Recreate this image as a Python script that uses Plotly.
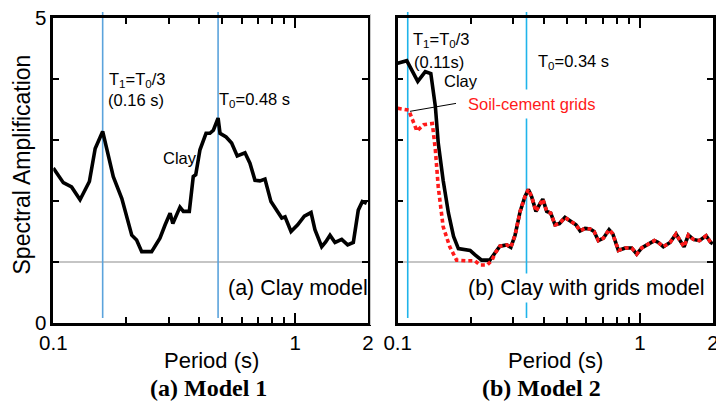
import math
import plotly.graph_objects as go

# ---- Model 1: clay only ----
clay1_period = [0.100, 0.110, 0.119, 0.129, 0.141, 0.149, 0.160, 0.177, 0.192, 0.211,
                0.221, 0.232, 0.255, 0.276, 0.290, 0.304, 0.312, 0.334, 0.345, 0.365,
                0.379, 0.388, 0.404, 0.428, 0.444, 0.459, 0.480, 0.489, 0.518, 0.546,
                0.576, 0.620, 0.650, 0.682, 0.715, 0.750, 0.794, 0.847, 0.880, 0.908,
                0.961, 1.024, 1.091, 1.163, 1.207, 1.287, 1.337, 1.393, 1.461, 1.557,
                1.648, 1.739, 1.823, 1.894, 1.975]
clay1_amp = [2.54, 2.30, 2.23, 2.02, 2.32, 2.86, 3.14, 2.40, 2.04, 1.44,
             1.36, 1.17, 1.17, 1.39, 1.61, 1.80, 1.63, 1.90, 1.83, 1.83,
             2.40, 2.43, 2.84, 3.11, 3.11, 3.16, 3.36, 3.11, 3.05, 2.95,
             2.74, 2.79, 2.62, 2.34, 2.33, 2.36, 1.99, 1.83, 1.72, 1.74,
             1.50, 1.61, 1.75, 1.81, 1.53, 1.25, 1.33, 1.44, 1.32, 1.37,
             1.28, 1.32, 1.85, 1.99, 1.96]

# ---- Model 2: clay with soil-cement grids ----
clay2_period = [0.100, 0.109, 0.121, 0.130, 0.137, 0.143, 0.147, 0.154, 0.162, 0.170,
                0.178, 0.193, 0.199, 0.208, 0.212, 0.222, 0.240, 0.252, 0.264, 0.282,
                0.293, 0.305, 0.320, 0.335, 0.346, 0.357, 0.372, 0.387, 0.397, 0.412,
                0.428, 0.446, 0.465, 0.490, 0.514, 0.544, 0.566, 0.593, 0.622, 0.646,
                0.673, 0.706, 0.745, 0.772, 0.814, 0.868, 0.924, 0.969, 1.016, 1.066,
                1.146, 1.190, 1.248, 1.330, 1.408, 1.453, 1.519, 1.583, 1.660, 1.757,
                1.873, 1.958, 1.996]
clay2_amp = [4.26, 4.30, 3.96, 4.12, 4.09, 3.55, 2.95, 2.34, 1.80, 1.42,
             1.22, 1.20, 1.19, 1.12, 1.09, 1.03, 1.03, 1.14, 1.26, 1.28,
             1.24, 1.44, 1.83, 2.07, 2.19, 2.07, 1.83, 1.96, 2.03, 1.83,
             1.80, 1.61, 1.63, 1.73, 1.68, 1.61, 1.51, 1.55, 1.54, 1.50,
             1.35, 1.39, 1.53, 1.46, 1.19, 1.23, 1.23, 1.13, 1.23, 1.28,
             1.35, 1.32, 1.25, 1.32, 1.46, 1.37, 1.25, 1.44, 1.37, 1.35,
             1.43, 1.32, 1.30]

grids_period = [0.100, 0.111, 0.120, 0.128, 0.139, 0.143, 0.147, 0.154, 0.164, 0.175,
                0.193, 0.208, 0.219, 0.234, 0.245, 0.252, 0.264, 0.282,
                0.293, 0.305, 0.320, 0.335, 0.346, 0.357, 0.372, 0.387, 0.397, 0.412,
                0.428, 0.446, 0.465, 0.490, 0.514, 0.544, 0.566, 0.593, 0.622, 0.646,
                0.673, 0.706, 0.745, 0.772, 0.814, 0.868, 0.924, 0.969, 1.016, 1.066,
                1.146, 1.190, 1.248, 1.330, 1.408, 1.453, 1.519, 1.583, 1.660, 1.757,
                1.873, 1.958, 1.996]
grids_amp = [3.52, 3.49, 3.15, 3.25, 3.27, 2.84, 2.23, 1.58, 1.25, 1.03,
             1.02, 1.02, 0.95, 0.95, 1.03, 1.14, 1.26, 1.28,
             1.24, 1.44, 1.83, 2.07, 2.19, 2.07, 1.83, 1.96, 2.03, 1.83,
             1.80, 1.61, 1.63, 1.73, 1.68, 1.61, 1.51, 1.55, 1.54, 1.50,
             1.35, 1.39, 1.53, 1.46, 1.19, 1.23, 1.23, 1.13, 1.23, 1.28,
             1.35, 1.32, 1.25, 1.32, 1.46, 1.37, 1.25, 1.44, 1.37, 1.35,
             1.43, 1.32, 1.30]

# characteristic periods marked on each panel
model1_periods = [0.16, 0.48]
model2_periods = [0.11, 0.34]

x_major = [0.1, 1, 2]
x_major_text = ["0.1", "1", "2"]
x_minor = [0.2, 0.3, 0.4, 0.5, 0.6, 0.7, 0.8, 0.9]
y_ticks = [0, 1, 2, 3, 4, 5]
y_ticktext = ["0", "", "", "", "", "5"]

SANS = "Liberation Sans, Arial, sans-serif"
SERIF = "Liberation Serif, Times New Roman, serif"
W, H = 716, 402

fig = go.Figure()

fig.add_trace(go.Scatter(x=clay1_period, y=clay1_amp, mode="lines",
                         line=dict(color="black", width=3.6),
                         xaxis="x", yaxis="y", showlegend=False))
fig.add_trace(go.Scatter(x=clay2_period, y=clay2_amp, mode="lines",
                         line=dict(color="black", width=3.6),
                         xaxis="x2", yaxis="y2", showlegend=False))
fig.add_trace(go.Scatter(x=grids_period, y=grids_amp, mode="lines",
                         line=dict(color="#ff1a1a", width=3.6, dash="4px,3px"),
                         xaxis="x2", yaxis="y2", showlegend=False))

xaxis_common = dict(
    type="log", range=[-1, math.log10(2)], automargin=False,
    showline=True, linecolor="black", linewidth=2.5, mirror="ticks",
    showgrid=False, zeroline=False,
    tickmode="array", tickvals=x_major, ticktext=x_major_text,
    ticks="inside", ticklen=10, tickwidth=1.5, tickcolor="black",
    ticklabeloverflow="allow",
    minor=dict(tickmode="array", tickvals=x_minor, ticks="inside",
               ticklen=6, tickwidth=1.5, tickcolor="black", showgrid=False),
    tickfont=dict(family=SANS, size=20.5, color="black"),
)
yaxis_common = dict(
    range=[0, 5], automargin=False,
    showline=True, linecolor="black", linewidth=2.5, mirror="ticks",
    showgrid=False, zeroline=False,
    tickmode="array", tickvals=y_ticks, ticktext=y_ticktext,
    ticks="inside", ticklen=6, tickwidth=1.5, tickcolor="black",
    ticklabeloverflow="allow",
    tickfont=dict(family=SANS, size=20.5, color="black"),
)

y_dom = [1 - 323 / H, 1 - 18 / H]
fig.update_layout(
    width=W, height=H, autosize=False,
    margin=dict(l=0, r=0, t=0, b=0, autoexpand=False),
    paper_bgcolor="white", plot_bgcolor="white",
    xaxis=dict(xaxis_common, domain=[53.3 / W, 368 / W], anchor="y"),
    yaxis=dict(yaxis_common, domain=y_dom, anchor="x"),
    xaxis2=dict(xaxis_common, domain=[397.7 / W, 713 / W], anchor="y2"),
    yaxis2=dict(yaxis_common, domain=y_dom, anchor="x2", showticklabels=False),
)

shapes = []
# reference line at amplification 1
for xr, yr in (("x", "y"), ("x2", "y2")):
    shapes.append(dict(type="line", xref=f"{xr} domain", yref=yr, x0=0, x1=1, y0=1, y1=1,
                       line=dict(color="#8c8c8c", width=1.2), layer="below"))
# characteristic period markers
for p in model1_periods:
    shapes.append(dict(type="line", xref="x", yref="paper", x0=p, x1=p,
                       y0=1 - 318 / H, y1=1 - 12 / H,
                       line=dict(color="#5ba3dc", width=1.6), layer="below"))
for p in model2_periods:
    shapes.append(dict(type="line", xref="x2", yref="paper", x0=p, x1=p,
                       y0=1 - 318 / H, y1=1 - 12 / H,
                       line=dict(color="#1fb4ea", width=1.6), layer="below"))
# leader from label to the grids curve
shapes.append(dict(type="line", xref="x2", yref="y2", x0=0.1124, y0=3.47, x1=0.174, y1=3.60,
                   line=dict(color="black", width=1)))
# thin separator between the two panels
shapes.append(dict(type="line", xref="paper", yref="paper", x0=370.5 / W, x1=370.5 / W,
                   y0=1 - 325 / H, y1=1 - 14 / H, line=dict(color="#c8c8c8", width=1)))
fig.update_layout(shapes=shapes)


def note(text, x, y, xref, yref, size=16.5, color="black", xanchor="left",
         family=SANS, bg=None, pad=1, angle=0):
    # annotation x on a log axis is given in log10 units
    if xref in ("x", "x2"):
        x = math.log10(x)
    fig.add_annotation(text=text, x=x, y=y, xref=xref, yref=yref, showarrow=False,
                       xanchor=xanchor, yanchor="middle", textangle=angle,
                       font=dict(family=family, size=size, color=color),
                       bgcolor=bg, borderpad=pad)


# panel (a) labels
note("T<sub>1</sub>=T<sub>0</sub>/3", 0.166, 3.98, "x", "y")
note("(0.16 s)", 0.165, 3.66, "x", "y")
note("T<sub>0</sub>=0.48 s", 0.476, 3.66, "x", "y")
note("Clay", 0.279, 2.70, "x", "y")
note("(a) Clay model", 0.517, 0.574, "x", "y", size=21.5)

# panel (b) labels
note("T<sub>1</sub>=T<sub>0</sub>/3", 0.1135, 4.64, "x2", "y2")
note("(0.11s)", 0.1145, 4.28, "x2", "y2")
note("Clay", 0.152, 3.97, "x2", "y2")
note("Soil-cement grids", 0.184, 3.59, "x2", "y2", color="#ff1a1a", bg="white", pad=5)
note("T<sub>0</sub>=0.34 s", 0.372, 4.28, "x2", "y2")
note("(b) Clay with grids model", 0.189, 0.574, "x2", "y2", size=21.5, bg="white", pad=2)

# axis titles and panel captions
note("Period (s)", 211.7 / W, 1 - 360 / H, "paper", "paper", size=22, xanchor="center")
note("Period (s)", 555.8 / W, 1 - 360 / H, "paper", "paper", size=22, xanchor="center")
note("Spectral Amplification", 22 / W, 1 - 164.5 / H, "paper", "paper", size=23,
     xanchor="center", angle=-90)
note("<b>(a) Model 1</b>", 208 / W, 1 - 388 / H, "paper", "paper", size=24,
     xanchor="center", family=SERIF)
note("<b>(b) Model 2</b>", 541.7 / W, 1 - 388 / H, "paper", "paper", size=24,
     xanchor="center", family=SERIF)

fig.write_html("out.html")
